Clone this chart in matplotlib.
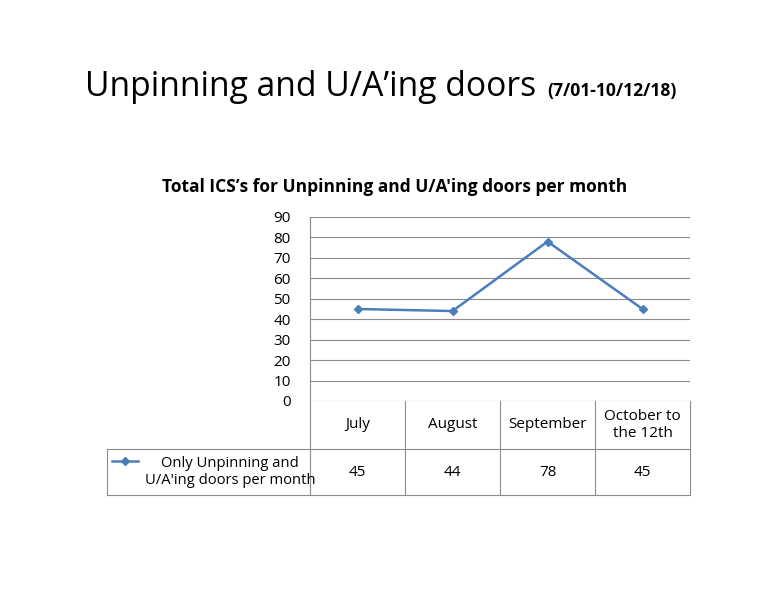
import matplotlib
matplotlib.use("Agg")
import matplotlib.pyplot as plt

months = ["July", "August", "September", "October to\nthe 12th"]
counts = [45, 44, 78, 45]
series_name = "Only Unpinning and\nU/A'ing doors per month"
yticks = list(range(0, 100, 10))

W, H = 762, 590
LINE = "#4a7ebb"
GRID = "#8c8c8c"
FONT = "Open Sans"

fig = plt.figure(figsize=(W / 100, H / 100), dpi=100)
fig.patch.set_facecolor("white")

# plot area in pixel coords: x 310..690, y 217..401
x0, x1, ytop, ybot = 310, 690, 217, 401
ax = fig.add_axes([x0 / W, 1 - ybot / H, (x1 - x0) / W, (ybot - ytop) / H])
ax.plot(range(len(months)), counts, color=LINE, lw=1.8, marker="D", ms=4)
ax.set_xlim(-0.5, len(months) - 0.5)
ax.set_ylim(0, 90)
ax.set_yticks(yticks)
ax.set_yticklabels([str(v) for v in yticks], fontsize=11, family=FONT)
ax.set_xticks([])
ax.grid(axis="y", color=GRID, lw=0.8)
ax.set_axisbelow(True)
for s in ["top", "right", "bottom"]:
    ax.spines[s].set_visible(False)
ax.spines["left"].set_color(GRID)
ax.tick_params(axis="y", length=0, pad=14)

# overlay for text and table, pixel coordinates
ov = fig.add_axes([0, 0, 1, 1], facecolor="none")
ov.set_xlim(0, W)
ov.set_ylim(H, 0)
ov.axis("off")

ov.text(85, 87, "Unpinning and U/A\u2019ing doors", fontsize=24.2, family=FONT,
        va="center", ha="left")
ov.text(547, 91, "(7/01-10/12/18)", fontsize=12.6, family=FONT, weight="bold",
        va="center", ha="left")
ov.text(395, 187, "Total ICS\u2019s for Unpinning and U/A'ing doors per month",
        fontsize=12.5, family=FONT, weight="bold", va="center", ha="center")

# table
r0, r1, r2 = 401, 449, 495
tl = 107
colw = (x1 - x0) / len(months)
kw = dict(color=GRID, lw=0.8)
ov.plot([x0, x1], [r1, r1], **kw)
ov.plot([tl, x0], [r1, r1], **kw)
ov.plot([tl, x1], [r2, r2], **kw)
ov.plot([tl, tl], [r1, r2], **kw)
for i in range(len(months) + 1):
    xx = x0 + i * colw
    ov.plot([xx, xx], [r0, r2], **kw)
for i, (m, c) in enumerate(zip(months, counts)):
    cx = x0 + (i + 0.5) * colw
    ov.text(cx, (r0 + r1) / 2, m, fontsize=11, family=FONT, ha="center", va="center")
    ov.text(cx, (r1 + r2) / 2, str(c), fontsize=11, family=FONT, ha="center", va="center")
ov.plot([112, 138], [461, 461], color=LINE, lw=1.8)
ov.plot([125], [461], color=LINE, marker="D", ms=4, ls="none")
ov.text(230, (r1 + r2) / 2, series_name, fontsize=10.6, family=FONT,
        ha="center", va="center", linespacing=1.2)

fig.savefig("out.png", dpi=100, facecolor="white")
